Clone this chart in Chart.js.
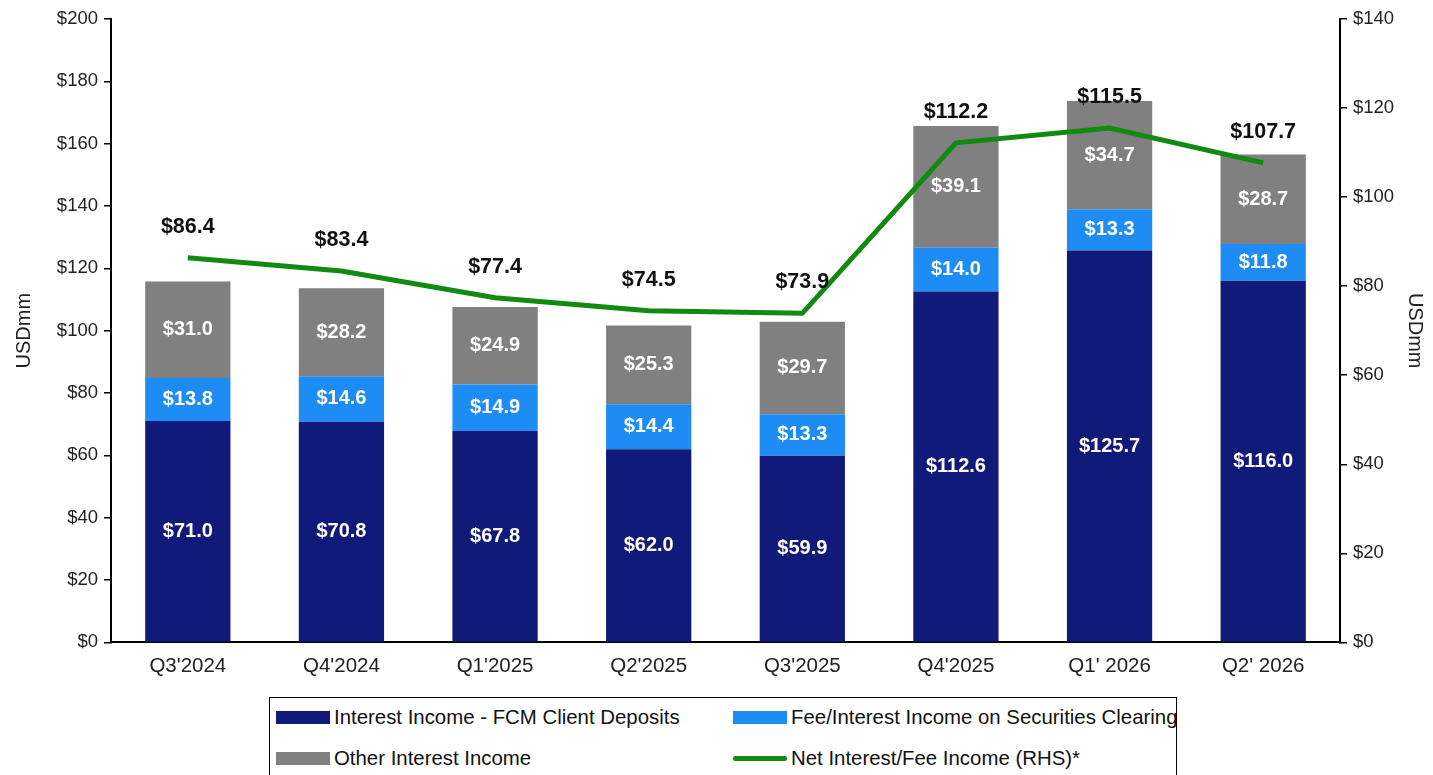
<!DOCTYPE html>
<html>
<head>
<meta charset="utf-8">
<script src="https://cdn.jsdelivr.net/npm/chart.js"></script>
<style>
  body { margin: 0; background: #fff; overflow: hidden; font-family: "Liberation Sans", Arial, sans-serif; }
  #wrap { position: relative; width: 1433px; height: 683px; }
  #legend {
    position: absolute; left: 269px; top: 697px; width: 906px; height: 100px;
    border: 1.5px solid #000; overflow: hidden; white-space: nowrap;
    font-size: 20.4px; color: #111;
  }
  .item { position: absolute; display: flex; align-items: center; }
  .sw { width: 54px; height: 13px; margin-right: 4px; }
  .ln { width: 54px; height: 5px; border-radius: 3px; margin-right: 4px; }
</style>
</head>
<body>
<div id="wrap"><canvas id="myChart"></canvas></div>
<div id="legend">
  <div class="item" style="left:6px; top:8px"><span class="sw" style="background:#101a78"></span>Interest Income - FCM Client Deposits</div>
  <div class="item" style="left:463px; top:8px"><span class="sw" style="background:#1e8cf5"></span>Fee/Interest Income on Securities Clearing</div>
  <div class="item" style="left:6px; top:49px"><span class="sw" style="background:#808080"></span>Other Interest Income</div>
  <div class="item" style="left:463px; top:49px"><span class="ln" style="background:#108a10"></span>Net Interest/Fee Income (RHS)*</div>
</div>
<script>
const categories = ["Q3'2024", "Q4'2024", "Q1'2025", "Q2'2025", "Q3'2025", "Q4'2025", "Q1' 2026", "Q2' 2026"];
const fcmDeposits = [71.0, 70.8, 67.8, 62.0, 59.9, 112.6, 125.7, 116.0];
const secClearing = [13.8, 14.6, 14.9, 14.4, 13.3, 14.0, 13.3, 11.8];
const otherInterest = [31.0, 28.2, 24.9, 25.3, 29.7, 39.1, 34.7, 28.7];
const netIncome = [86.4, 83.4, 77.4, 74.5, 73.9, 112.2, 115.5, 107.7];

const leftTicks = [0, 20, 40, 60, 80, 100, 120, 140, 160, 180, 200];
const rightTicks = [0, 20, 40, 60, 80, 100, 120, 140];

const fmt = v => '$' + v.toFixed(1);

// draws the values on the bars and above the line
const valueLabels = {
  id: 'valueLabels',
  afterDatasetsDraw(chart) {
    const ctx = chart.ctx;
    ctx.save();
    ctx.textAlign = 'center';
    ctx.textBaseline = 'middle';
    chart.data.datasets.forEach((ds, di) => {
      const meta = chart.getDatasetMeta(di);
      meta.data.forEach((el, i) => {
        if (ds.type === 'line') {
          ctx.fillStyle = '#111';
          ctx.font = 'bold 21.5px "Liberation Sans", Arial, sans-serif';
          ctx.fillText(fmt(ds.data[i]), el.x, el.y - 31);
        } else {
          ctx.fillStyle = '#fff';
          ctx.font = 'bold 20px "Liberation Sans", Arial, sans-serif';
          ctx.fillText(fmt(ds.data[i]), el.x, (el.y + el.base) / 2);
        }
      });
    });
    ctx.restore();
  }
};

const yFont = { family: '"Liberation Sans", Arial, sans-serif', size: 18.5 };
const xFont = { family: '"Liberation Sans", Arial, sans-serif', size: 20.5 };
const titleFont = { family: '"Liberation Sans", Arial, sans-serif', size: 20 };

const data = {
  labels: categories,
  datasets: [
    { type: 'line', label: 'Net Interest/Fee Income (RHS)*', data: netIncome, yAxisID: 'y1',
      borderColor: '#108a10', borderWidth: 5, pointRadius: 0, tension: 0, order: 0 },
    { type: 'bar', label: 'Interest Income - FCM Client Deposits', data: fcmDeposits, backgroundColor: '#101a78', order: 1 },
    { type: 'bar', label: 'Fee/Interest Income on Securities Clearing', data: secClearing, backgroundColor: '#1e8cf5', order: 1 },
    { type: 'bar', label: 'Other Interest Income', data: otherInterest, backgroundColor: '#808080', order: 1 }
  ]
};

const config = {
  data: data,
  plugins: [valueLabels],
  options: {
    responsive: true,
    maintainAspectRatio: false,
    animation: false,
    datasets: { bar: { barPercentage: 0.555, categoryPercentage: 1 } },
    layout: { padding: { top: 19, left: 12, right: 6, bottom: 0 } },
    plugins: { legend: { display: false }, tooltip: { enabled: false } },
    scales: {
      x: {
        stacked: true,
        grid: { display: false },
        border: { display: true, color: '#000', width: 2 },
        ticks: { color: '#222', font: xFont, padding: 4 }
      },
      y: {
        stacked: true, position: 'left', min: 0, max: 200,
        afterBuildTicks: ax => { ax.ticks = leftTicks.map(v => ({ value: v })); },
        afterFit: ax => { ax.width = 99; },
        grid: { drawOnChartArea: false, color: '#000', lineWidth: 1.5, tickLength: 7 },
        border: { display: true, color: '#000', width: 2 },
        ticks: { color: '#222', font: yFont, padding: 6, callback: v => '$' + v },
        title: { display: true, text: 'USDmm', color: '#222', font: titleFont, padding: 0 }
      },
      y1: {
        position: 'right', min: 0, max: 140,
        afterBuildTicks: ax => { ax.ticks = rightTicks.map(v => ({ value: v })); },
        afterFit: ax => { ax.width = 87; },
        grid: { drawOnChartArea: false, color: '#000', lineWidth: 1.5, tickLength: 7 },
        border: { display: true, color: '#000', width: 2 },
        ticks: { color: '#222', font: yFont, padding: 6, callback: v => '$' + v },
        title: { display: true, text: 'USDmm', color: '#222', font: titleFont, padding: 0 }
      }
    }
  }
};

const ctx = document.getElementById('myChart').getContext('2d');
const myChart = new Chart(ctx, config);
</script>
</body>
</html>
